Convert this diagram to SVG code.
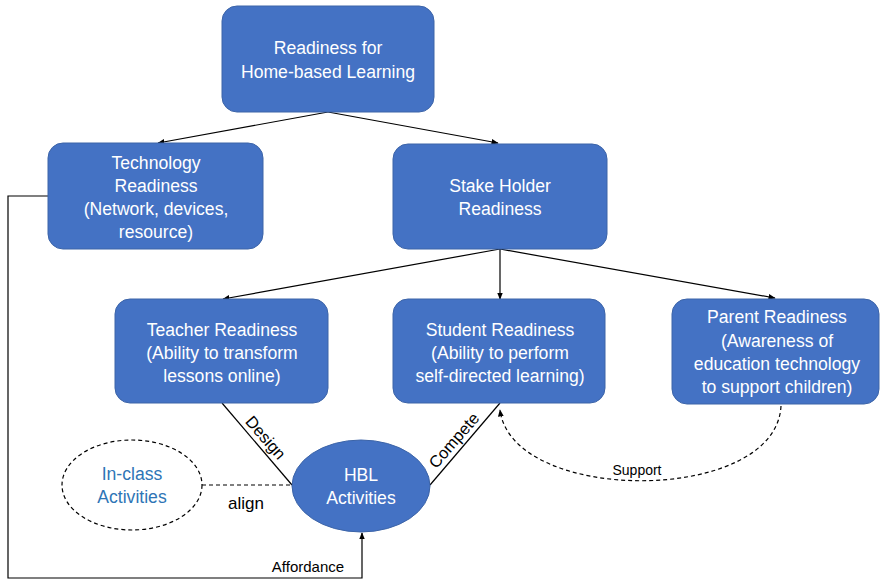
<svg xmlns="http://www.w3.org/2000/svg" width="880" height="580" viewBox="0 0 880 580">
<defs>
<marker id="ah" viewBox="0 0 10 10" refX="9" refY="5" markerWidth="6" markerHeight="6" orient="auto-start-reverse"><path d="M0,1 L10,5 L0,9 z" fill="#000"/></marker>
<style>
.box{fill:#4472C4;stroke:#3C64A8;stroke-width:1}
.t{font-family:"Liberation Sans",Arial,sans-serif;font-size:17.6px;fill:#fff;text-anchor:middle;dominant-baseline:central}
.lbl{font-family:"Liberation Sans",Arial,sans-serif;font-size:17px;fill:#000;text-anchor:middle;dominant-baseline:central}
.rl{font-family:"Liberation Sans",Arial,sans-serif;font-size:16.5px;fill:#000;text-anchor:middle}
.ln{stroke:#000;stroke-width:1.2;fill:none}
.dash{stroke:#000;stroke-width:1.2;fill:none;stroke-dasharray:4,3}
</style>
</defs>
<rect width="880" height="580" fill="#fff"/>
<g id="connectors">
<line class="ln" x1="328" y1="112" x2="158" y2="143" marker-end="url(#ah)"/>
<line class="ln" x1="328" y1="112" x2="498" y2="143" marker-end="url(#ah)"/>
<line class="ln" x1="500" y1="249" x2="223" y2="299" marker-end="url(#ah)"/>
<line class="ln" x1="500" y1="249" x2="500" y2="299" marker-end="url(#ah)"/>
<line class="ln" x1="500" y1="249" x2="775" y2="298" marker-end="url(#ah)"/>
<line class="ln" x1="222" y1="403" x2="292" y2="485"/>
<line class="ln" x1="430" y1="485" x2="500" y2="403"/>
<line class="dash" x1="202" y1="485" x2="292" y2="485"/>
<polyline class="ln" points="48,196 8,196 8,578 362,578 362,533" stroke-width="1" marker-end="url(#ah)"/>
<path class="dash" d="M781,406 C776,505 512,505 500,410" marker-end="url(#ah)"/>
<text class="rl" transform="translate(257.6,444.7) rotate(49)" y="-5">Design</text>
<text class="rl" transform="translate(462,447.4) rotate(-49)" y="-5">Compete</text>
<text class="lbl" x="246" y="503">align</text>
<text class="lbl" x="308" y="566" style="font-size:15px">Affordance</text>
<text class="lbl" x="637" y="470" style="font-size:14px">Support</text>
</g>
<g id="top">
<rect class="box" x="222" y="6" width="212" height="106" rx="15"/>
<text class="t" x="328" y="48">Readiness for</text>
<text class="t" x="328" y="72">Home-based Learning</text>
</g>
<g id="tech">
<rect class="box" x="48" y="143" width="215" height="106" rx="15"/>
<text class="t" x="156" y="163">Technology</text>
<text class="t" x="156" y="186">Readiness</text>
<text class="t" x="156" y="209">(Network, devices,</text>
<text class="t" x="156" y="232">resource)</text>
</g>
<g id="stake">
<rect class="box" x="393" y="144" width="214" height="105" rx="15"/>
<text class="t" x="500" y="186">Stake Holder</text>
<text class="t" x="500" y="209">Readiness</text>
</g>
<g id="teacher">
<rect class="box" x="115" y="299" width="213" height="104" rx="15"/>
<text class="t" x="222" y="330">Teacher Readiness</text>
<text class="t" x="222" y="353">(Ability to transform</text>
<text class="t" x="222" y="376">lessons online)</text>
</g>
<g id="student">
<rect class="box" x="393" y="299" width="212" height="104" rx="15"/>
<text class="t" x="500" y="330">Student Readiness</text>
<text class="t" x="500" y="353">(Ability to perform</text>
<text class="t" x="500" y="376">self-directed learning)</text>
</g>
<g id="parent">
<rect class="box" x="672" y="299" width="207" height="105" rx="15"/>
<text class="t" x="777" y="317">Parent Readiness</text>
<text class="t" x="777" y="341">(Awareness of</text>
<text class="t" x="777" y="364">education technology</text>
<text class="t" x="777" y="387">to support children)</text>
</g>
<g id="hbl">
<ellipse class="box" cx="361" cy="486" rx="69" ry="46"/>
<text class="t" x="361" y="475">HBL</text>
<text class="t" x="361" y="498">Activities</text>
</g>
<g id="inclass">
<ellipse class="dash" cx="132" cy="485" rx="70" ry="45"/>
<text class="t" x="132" y="474" style="fill:#2E75B6">In-class</text>
<text class="t" x="132" y="497" style="fill:#2E75B6">Activities</text>
</g>
</svg>
